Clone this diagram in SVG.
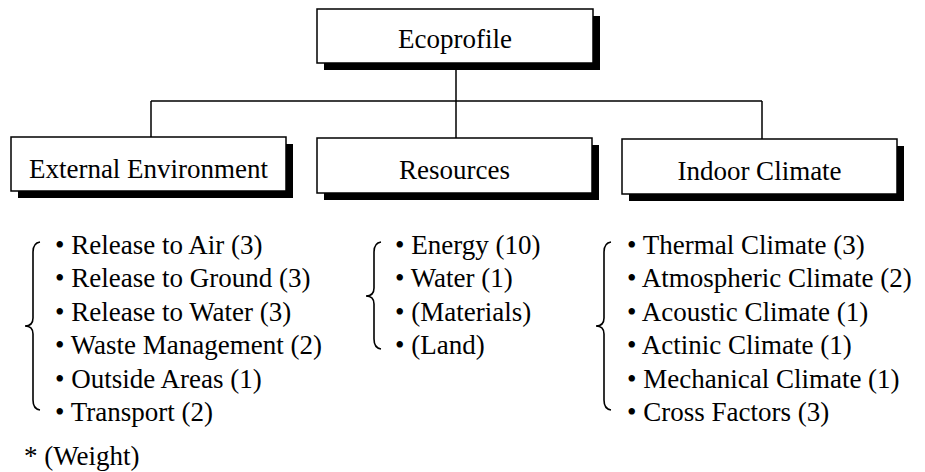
<svg xmlns="http://www.w3.org/2000/svg" width="925" height="472" viewBox="0 0 925 472">
<defs>
<style>
.box{fill:#fff;stroke:#000;stroke-width:1.5}
.sh{fill:#000}
.lbl{font-family:"Liberation Serif","Times New Roman",serif;font-size:27px;fill:#000;text-anchor:middle}
.li{font-family:"Liberation Serif","Times New Roman",serif;font-size:27px;fill:#000}
.cn{fill:none;stroke:#000;stroke-width:1.5}
.br{fill:none;stroke:#000;stroke-width:1.6}
</style>
</defs>
<rect width="925" height="472" fill="#fff"/>
<g id="connectors">
<path class="cn" d="M456,63 V138 M151,101 H762 M151,101 V137 M762,101 V139"/>
</g>
<g id="ecoprofile">
<rect class="sh" x="324" y="16" width="276" height="54"/>
<rect class="box" x="317" y="9" width="276" height="54"/>
<text class="lbl" x="455" y="48">Ecoprofile</text>
</g>
<g id="external">
<rect class="sh" x="18" y="144" width="275" height="54"/>
<rect class="box" x="11" y="137" width="275" height="54"/>
<text class="lbl" x="148.5" y="178">External Environment</text>
</g>
<g id="resources">
<rect class="sh" x="324" y="145" width="275" height="55"/>
<rect class="box" x="317" y="138" width="275" height="55"/>
<text class="lbl" x="454.5" y="179">Resources</text>
</g>
<g id="indoor">
<rect class="sh" x="629" y="146" width="275" height="55"/>
<rect class="box" x="622" y="139" width="275" height="55"/>
<text class="lbl" x="759.5" y="180">Indoor Climate</text>
</g>
<g id="external-list">
<path class="br" d="M40,242 Q33,243 33,252 V318 Q33,326 25,326 Q33,326 33,334 V400 Q33,409 40,410"/>
<text class="li" x="55" y="254">• Release to Air (3)</text>
<text class="li" x="55" y="287">• Release to Ground (3)</text>
<text class="li" x="55" y="321">• Release to Water (3)</text>
<text class="li" x="55" y="354">• Waste Management (2)</text>
<text class="li" x="55" y="388">• Outside Areas (1)</text>
<text class="li" x="55" y="421">• Transport (2)</text>
</g>
<g id="resources-list">
<path class="br" d="M381,242 Q374,243 374,252 V288 Q374,296 366,296 Q374,296 374,304 V339 Q374,348 381,349"/>
<text class="li" x="395" y="254">• Energy (10)</text>
<text class="li" x="395" y="287">• Water (1)</text>
<text class="li" x="395" y="321">• (Materials)</text>
<text class="li" x="395" y="354">• (Land)</text>
</g>
<g id="indoor-list">
<path class="br" d="M611,242 Q604,243 604,252 V318 Q604,326 596,326 Q604,326 604,334 V400 Q604,409 611,410"/>
<text class="li" x="627" y="254">• Thermal Climate (3)</text>
<text class="li" x="627" y="287">• Atmospheric Climate (2)</text>
<text class="li" x="627" y="321">• Acoustic Climate (1)</text>
<text class="li" x="627" y="354">• Actinic Climate (1)</text>
<text class="li" x="627" y="388">• Mechanical Climate (1)</text>
<text class="li" x="627" y="421">• Cross Factors (3)</text>
</g>
<g id="note">
<text class="li" x="24" y="465">* (Weight)</text>
</g>
</svg>
